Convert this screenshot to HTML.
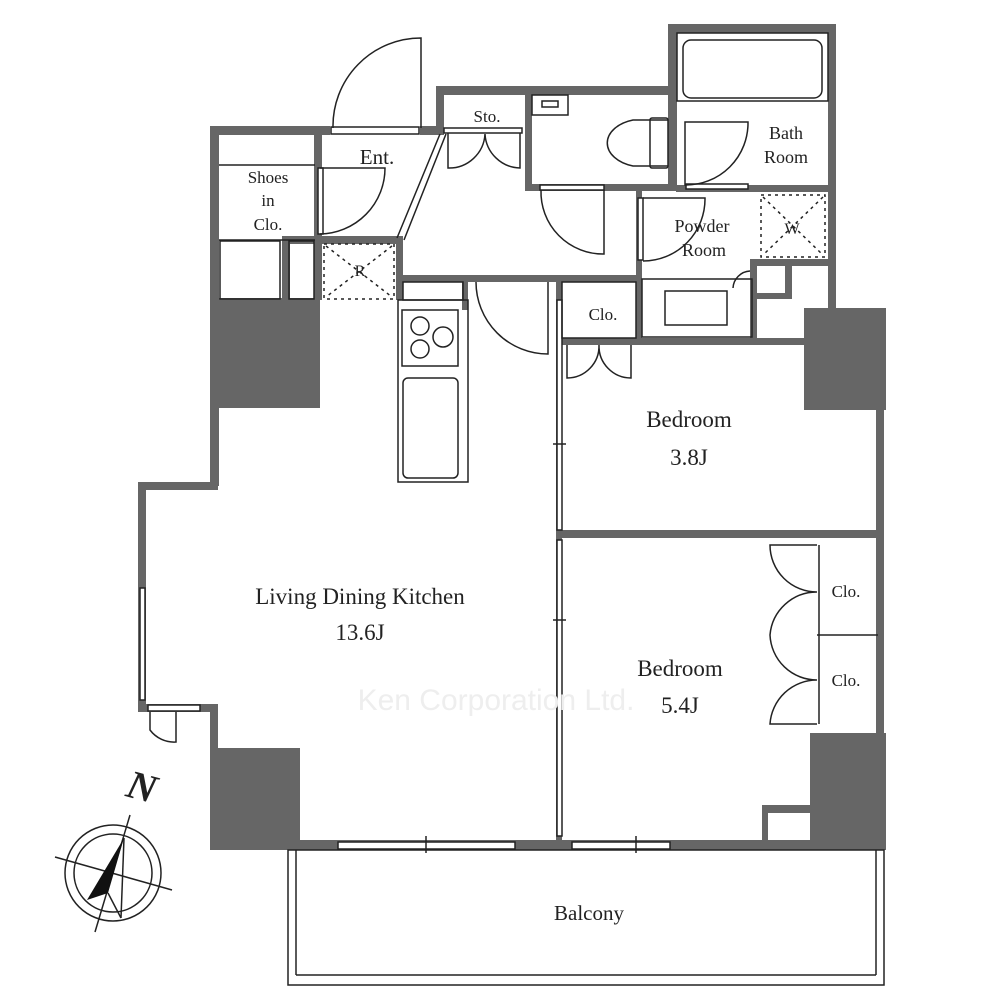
<!DOCTYPE html>
<html><head><meta charset="utf-8"><style>
html,body{margin:0;padding:0;background:#fff;}
svg{display:block;}
text{font-family:"Liberation Serif",serif;fill:#222;}
</style></head><body>
<svg width="1000" height="1000" viewBox="0 0 1000 1000" xmlns="http://www.w3.org/2000/svg">
<rect width="1000" height="1000" fill="#fff"/>
<g fill="#666">
<!-- entry/shoes block -->
<rect x="210" y="126" width="120" height="9"/>
<rect x="420" y="126" width="24" height="9"/>
<rect x="210" y="126" width="9" height="360"/>
<rect x="314" y="134" width="8" height="166"/>
<rect x="282" y="236" width="120" height="8"/>
<rect x="282" y="236" width="8" height="64"/>
<rect x="210" y="298" width="110" height="110"/>
<!-- sto / toilet / bath -->
<rect x="436" y="86" width="240" height="9"/>
<rect x="436" y="86" width="8" height="48"/>
<rect x="525" y="86" width="7" height="104"/>
<rect x="525" y="184" width="151" height="7"/>
<rect x="668" y="24" width="168" height="9"/>
<rect x="668" y="24" width="9" height="167"/>
<rect x="828" y="24" width="8" height="290"/>
<rect x="676" y="185" width="152" height="7"/>
<rect x="636" y="191" width="6" height="92"/>
<rect x="752" y="259" width="78" height="7"/>
<rect x="750" y="259" width="7" height="80"/>
<rect x="785" y="259" width="7" height="40"/>
<rect x="750" y="293" width="42" height="6"/>
<!-- kitchen top -->
<rect x="396" y="236" width="7" height="64"/>
<rect x="400" y="275" width="240" height="7"/>
<rect x="462" y="280" width="6" height="30"/>
<rect x="556" y="280" width="6" height="560"/>
<rect x="556" y="338" width="250" height="7"/>
<rect x="636" y="280" width="6" height="60"/>
<!-- right side -->
<rect x="804" y="308" width="82" height="102"/>
<rect x="876" y="405" width="8" height="335"/>
<rect x="556" y="530" width="328" height="8"/>
<rect x="810" y="733" width="76" height="117"/>
<rect x="762" y="805" width="50" height="8"/>
<rect x="762" y="805" width="6" height="40"/>
<!-- LDK left -->
<rect x="138" y="482" width="80" height="8"/>
<rect x="138" y="482" width="8" height="230"/>
<rect x="138" y="704" width="80" height="8"/>
<rect x="210" y="704" width="8" height="50"/>
<rect x="210" y="748" width="90" height="102"/>
<rect x="210" y="840" width="676" height="10"/>
</g>
<g fill="#fff" stroke="#222" stroke-width="1.5">
<!-- windows / door frames -->
<rect x="140" y="588" width="5" height="112"/>
<rect x="148" y="705" width="52" height="6"/>
<rect x="338" y="842" width="177" height="7"/>
<rect x="572" y="842" width="98" height="7"/>
<rect x="331" y="127" width="88" height="7"/>
<rect x="557" y="300" width="5" height="230" />
<rect x="557" y="540" width="5" height="296"/>
<rect x="318" y="168" width="5" height="66"/>
<rect x="444" y="128" width="78" height="5"/>
<rect x="540" y="185" width="64" height="5"/>
<rect x="686" y="184" width="62" height="5"/>
<rect x="638" y="198" width="5" height="62"/>
</g>
<g fill="none" stroke="#222" stroke-width="1.5">
<!-- diag wall -->
<line x1="397" y1="238" x2="440" y2="134"/><line x1="404" y1="240" x2="446" y2="134"/>
<!-- door swings -->
<path d="M333 128 A88 88 0 0 1 421 38 L421 128"/>
<path d="M320 234 A66 66 0 0 0 385 168 L320 168"/>
<path d="M448 133 L448 168 A36 36 0 0 0 485 134 A36 36 0 0 0 520 168 L520 133"/>
<path d="M541 190 A62 62 0 0 0 604 254 L604 190"/>
<path d="M685 185 A62 62 0 0 0 748 122 L685 122 Z" />
<path d="M643 261 A62 62 0 0 0 705 198 L643 198"/>
<path d="M476 282 A72 72 0 0 0 548 354 L548 282"/>
<path d="M567 345 L567 378 A32 32 0 0 0 599 345 A32 32 0 0 0 631 378 L631 345"/>
<path d="M817 545 L770 545 A47 47 0 0 0 817 592 A47 47 0 0 0 770 635 A47 47 0 0 0 817 680 A47 47 0 0 0 770 724 L817 724"/>
<line x1="817" y1="635" x2="878" y2="635"/>
<line x1="819" y1="545" x2="819" y2="724"/>
<path d="M150 712 L150 730 A30 30 0 0 0 176 742 L176 712"/>
<path d="M733 288 A18 18 0 0 1 750 271"/>
<!-- shoes lines -->
<line x1="219" y1="165" x2="315" y2="165"/><line x1="219" y1="240" x2="315" y2="240"/>
<rect x="220" y="241" width="60" height="58" /><rect x="289" y="241" width="25" height="58"/>
<!-- bathtub, toilet -->
<rect x="683" y="40" width="139" height="58" rx="8"/>
<rect x="677" y="33" width="151" height="68"/>
<rect x="532" y="95" width="36" height="20"/><rect x="542" y="101" width="16" height="6"/>
<path d="M668 120 L633 120 A36 24 0 0 0 633 166 L668 166"/>
<rect x="650" y="118" width="18" height="50" rx="2"/>
<!-- vanity -->
<rect x="642" y="279" width="110" height="58"/><rect x="665" y="291" width="62" height="34"/>
<!-- Clo box top -->
<rect x="562" y="282" width="74" height="56"/>
<!-- kitchen -->
<rect x="398" y="300" width="70" height="182"/>
<rect x="402" y="310" width="56" height="56"/>
<circle cx="420" cy="326" r="9"/><circle cx="443" cy="337" r="10"/><circle cx="420" cy="349" r="9"/>
<rect x="403" y="378" width="55" height="100" rx="5"/>
<rect x="403" y="282" width="60" height="18"/>
<!-- balcony -->
<rect x="288" y="850" width="596" height="135"/>
<line x1="296" y1="850" x2="296" y2="975"/><line x1="876" y1="850" x2="876" y2="975"/><line x1="296" y1="975" x2="876" y2="975"/>
<line x1="426" y1="836" x2="426" y2="853"/><line x1="636" y1="836" x2="636" y2="853"/>
<line x1="553" y1="444" x2="566" y2="444"/><line x1="553" y1="620" x2="566" y2="620"/>
<!-- compass -->
<circle cx="113" cy="873" r="48"/><circle cx="113" cy="873" r="39"/>
<line x1="130" y1="815" x2="95" y2="932"/><line x1="55" y1="857" x2="172" y2="890"/>
<path d="M124 838 L121 918"/>
</g>
<g stroke="#222" stroke-width="1.5" stroke-dasharray="3 4" fill="none">
<rect x="324" y="244" width="70" height="55"/><line x1="326" y1="246" x2="392" y2="297"/><line x1="392" y1="246" x2="326" y2="297"/>
<rect x="761" y="195" width="64" height="62"/><line x1="763" y1="197" x2="823" y2="255"/><line x1="823" y1="197" x2="763" y2="255"/>
</g>
<path d="M124 838 L87 900 L108 893 Z" fill="#111"/>
<path d="M108 893 L121 918" stroke="#222" stroke-width="1.5"/>
<g font-size="21" text-anchor="middle">
<text x="377" y="164">Ent.</text>
<text x="487" y="122" font-size="17">Sto.</text>
<text x="268" y="183" font-size="17">Shoes</text>
<text x="268" y="206" font-size="17">in</text>
<text x="268" y="230" font-size="17">Clo.</text>
<text x="360" y="276" font-size="16">R</text>
<text x="786" y="139" font-size="18">Bath</text>
<text x="786" y="163" font-size="18">Room</text>
<text x="702" y="232" font-size="18">Powder</text>
<text x="704" y="256" font-size="18">Room</text>
<text x="792" y="234" font-size="16">W</text>
<text x="603" y="320" font-size="17">Clo.</text>
<text x="689" y="427" font-size="23">Bedroom</text>
<text x="689" y="465" font-size="23">3.8J</text>
<text x="360" y="604" font-size="23">Living Dining Kitchen</text>
<text x="360" y="640" font-size="23">13.6J</text>
<text x="680" y="676" font-size="23">Bedroom</text>
<text x="680" y="713" font-size="23">5.4J</text>
<text x="846" y="597" font-size="17">Clo.</text>
<text x="846" y="686" font-size="17">Clo.</text>
<text x="589" y="920" font-size="21">Balcony</text>
<text x="496" y="710" font-size="30" style="font-family:'Liberation Sans',sans-serif;fill:#eee;">Ken Corporation Ltd.</text>
<text x="141" y="800" font-size="40" font-weight="bold" font-style="italic" transform="rotate(15 141 790)">N</text>
</g>
</svg>
</body></html>
